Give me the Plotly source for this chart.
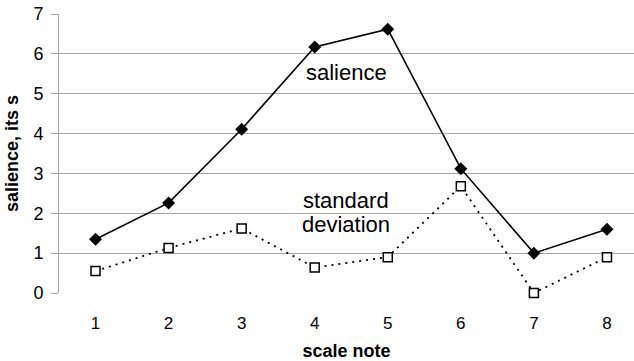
import plotly.graph_objects as go

# scale notes and the two measured series
notes = [1, 2, 3, 4, 5, 6, 7, 8]
salience = [1.35, 2.26, 4.11, 6.17, 6.62, 3.12, 1.0, 1.6]
std_dev = [0.55, 1.13, 1.62, 0.64, 0.9, 2.68, 0.0, 0.9]
y_ticks = [0, 1, 2, 3, 4, 5, 6, 7]

FONT = "Liberation Sans, Arial, sans-serif"
GRID = "#a6a6a6"

fig = go.Figure()

fig.add_trace(go.Scatter(
    x=notes, y=std_dev, mode="lines+markers",
    line=dict(color="black", width=1.8, dash="2px,5px"),
    marker=dict(symbol="square", size=9, color="white",
                line=dict(color="black", width=1.5)),
    cliponaxis=False, showlegend=False,
))

fig.add_trace(go.Scatter(
    x=notes, y=salience, mode="lines+markers",
    line=dict(color="black", width=1.6),
    marker=dict(symbol="diamond", size=10, color="black"),
    cliponaxis=False, showlegend=False,
))

# in-plot series labels
label_font = dict(family=FONT, size=22, color="black")
fig.add_annotation(x=4.43, y=5.54, text="salience", showarrow=False, font=label_font)
fig.add_annotation(x=4.43, y=2.33, text="standard", showarrow=False, font=label_font)
fig.add_annotation(x=4.43, y=1.71, text="deviation", showarrow=False, font=label_font)

fig.update_layout(
    width=634, height=361,
    margin=dict(l=59, r=0, t=14, b=68),
    paper_bgcolor="white", plot_bgcolor="white",
    font=dict(family=FONT, color="black"),
)

fig.update_xaxes(
    range=[0.5, 8.37], tickmode="array", tickvals=notes,
    ticktext=[str(n) for n in notes],
    showgrid=False, zeroline=False, showline=False,
    ticks="", ticklabelstandoff=18,
    tickfont=dict(size=17),
    title=dict(text="<b>scale note</b>", font=dict(size=18), standoff=14),
)

fig.update_yaxes(
    range=[0, 7], tickmode="array", tickvals=y_ticks,
    showgrid=True, gridcolor=GRID, gridwidth=1,
    zeroline=False, showline=True, linecolor=GRID, linewidth=1,
    ticks="outside", ticklen=7, tickcolor=GRID,
    tickfont=dict(size=18), ticklabelstandoff=4,
    title=dict(text="<b>salience, its s</b>", font=dict(size=18), standoff=10),
)

fig.write_html("out.html")
